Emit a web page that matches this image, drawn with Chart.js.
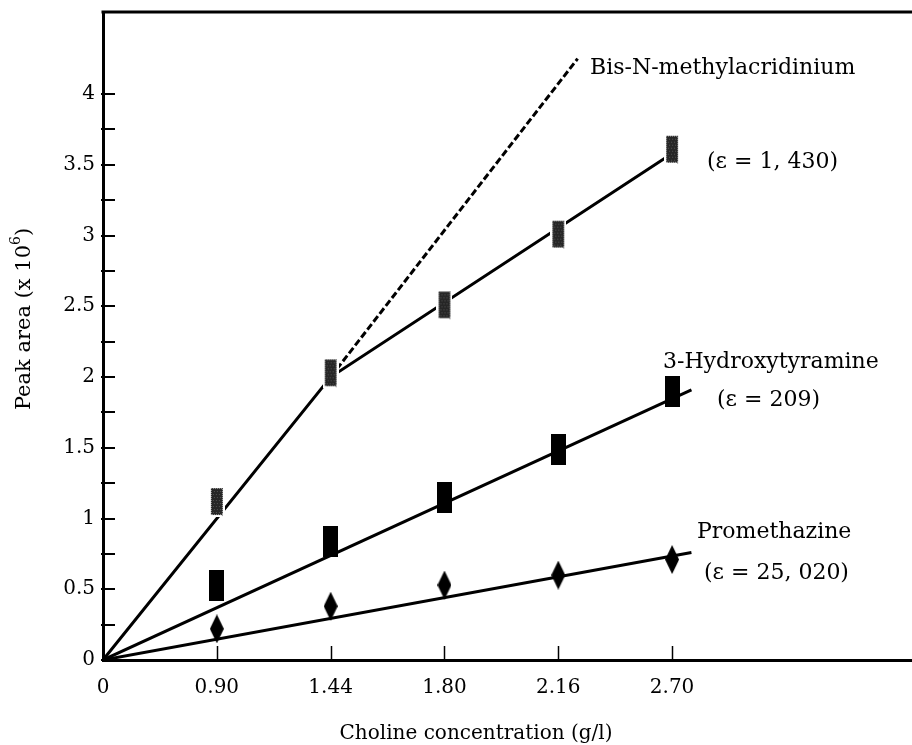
<!DOCTYPE html>
<html>
<head>
<meta charset="utf-8">
<script src="https://cdn.jsdelivr.net/npm/chart.js@4.4.1/dist/chart.umd.min.js"></script>
<style>
  html, body { margin: 0; padding: 0; background: #fff; overflow: hidden; }
  #wrap { width: 940px; height: 745px; }
</style>
</head>
<body>
<div id="wrap"><canvas id="peakChart" width="940" height="745"></canvas></div>
<script>
// x axis: concentrations are drawn at evenly spaced positions, as in the original figure
const concLabels = ['0', '0.90', '1.44', '1.80', '2.16', '2.70'];
const concIndex = [1, 2, 3, 4, 5];

// measured peak areas (x 10^6)
const bisPeak = [1.12, 2.03, 2.51, 3.01, 3.61];
const hydroxyPeak = [0.53, 0.84, 1.15, 1.49, 1.90];
const prometPeak = [0.22, 0.38, 0.53, 0.60, 0.71];

// fitted lines
const bisFitX = [0, 2, 5];
const bisFitY = [0, 2.0, 3.58];
const bisDashX = [2, 4.17];
const bisDashY = [2.0, 4.25];
const hydroxyFitX = [0, 5.17];
const hydroxyFitY = [0, 1.91];
const prometFitX = [0, 5.17];
const prometFitY = [0, 0.76];

const yMajorTicks = [0, 0.5, 1, 1.5, 2, 2.5, 3, 3.5, 4];
const yMinorTicks = [0.25, 0.75, 1.25, 1.75, 2.25, 2.75, 3.25, 3.75];

const FONT = '"DejaVu Serif", "Liberation Serif", serif';

function pts(xs, ys) {
  return xs.map((x, i) => ({ x: x, y: ys[i] }));
}

function makeMarker(w, h, draw) {
  const c = document.createElement('canvas');
  c.width = w;
  c.height = h;
  draw(c.getContext('2d'), w, h);
  return c;
}

// grey stippled bar with a thin white halo
const bisMarker = makeMarker(16, 31, (g, w, h) => {
  g.fillStyle = '#fff';
  g.fillRect(0, 0, w, h);
  g.fillStyle = '#262626';
  g.fillRect(2, 2, w - 4, h - 4);
  g.fillStyle = '#9a9a9a';
  for (let y = 2; y < h - 2; y += 2) {
    g.fillRect(2, y, 1, 1);
    g.fillRect(w - 3, y + 1, 1, 1);
  }
  for (let x = 2; x < w - 2; x += 2) {
    g.fillRect(x, 2, 1, 1);
    g.fillRect(x + 1, h - 3, 1, 1);
  }
  g.fillStyle = '#555';
  for (let y = 5; y < h - 4; y += 3) {
    for (let x = 4 + (y % 2); x < w - 4; x += 3) g.fillRect(x, y, 1, 1);
  }
});

const hydroxyMarker = makeMarker(15, 31, (g, w, h) => {
  g.fillStyle = '#000';
  g.fillRect(0, 0, w, h);
});

const prometMarker = makeMarker(14, 29, (g, w, h) => {
  g.fillStyle = '#000';
  g.beginPath();
  g.moveTo(w / 2, 0);
  g.lineTo(w, h / 2);
  g.lineTo(w / 2, h);
  g.lineTo(0, h / 2);
  g.closePath();
  g.fill();
});

function line(ctx, x1, y1, x2, y2) {
  ctx.beginPath();
  ctx.moveTo(x1, y1);
  ctx.lineTo(x2, y2);
  ctx.stroke();
}

// ticks point inwards, plus the top frame line
const frameTicks = {
  id: 'frameTicks',
  afterDraw(chart) {
    const { ctx, chartArea: a, scales: { x, y } } = chart;
    ctx.save();
    ctx.strokeStyle = '#000';
    ctx.lineWidth = 2;
    yMajorTicks.concat(yMinorTicks).forEach((v) => {
      const py = Math.round(y.getPixelForValue(v));
      line(ctx, a.left - 2, py, a.left + 12, py);
    });
    ctx.lineWidth = 1.5;
    concIndex.forEach((i) => {
      const px = Math.round(x.getPixelForValue(i)) + 0.5;
      line(ctx, px, a.bottom, px, a.bottom - 14);
    });
    ctx.lineWidth = 3;
    line(ctx, a.left - 1.5, a.top, a.right, a.top);
    ctx.restore();
  }
};

const annotations = [
  { text: 'Bis-N-methylacridinium', x: 590, y: 68 },
  { text: '(\u03b5 = 1, 430)', x: 707, y: 162 },
  { text: '3-Hydroxytyramine', x: 663, y: 362 },
  { text: '(\u03b5 = 209)', x: 717, y: 400 },
  { text: 'Promethazine', x: 697, y: 532 },
  { text: '(\u03b5 = 25, 020)', x: 704, y: 573 }
];

const textLayer = {
  id: 'textLayer',
  afterDraw(chart) {
    const ctx = chart.ctx;
    ctx.save();
    ctx.fillStyle = '#000';
    ctx.font = '22px ' + FONT;
    ctx.textBaseline = 'middle';
    ctx.textAlign = 'left';
    annotations.forEach((a) => ctx.fillText(a.text, a.x, a.y));

    // x axis title
    ctx.font = '20px ' + FONT;
    ctx.textAlign = 'center';
    ctx.fillText('Choline concentration (g/l)', 476, 734);

    // y axis title with superscript
    ctx.translate(25, 319);
    ctx.rotate(-Math.PI / 2);
    const main = 'Peak area (x 10';
    const sup = '6';
    const tail = ')';
    ctx.font = '21px ' + FONT;
    const wMain = ctx.measureText(main).width;
    const wTail = ctx.measureText(tail).width;
    ctx.font = '14px ' + FONT;
    const wSup = ctx.measureText(sup).width;
    const total = wMain + wSup + wTail;
    let cx = -total / 2;
    ctx.textAlign = 'left';
    ctx.font = '21px ' + FONT;
    ctx.fillText(main, cx, 0);
    cx += wMain;
    ctx.font = '14px ' + FONT;
    ctx.fillText(sup, cx, -9);
    cx += wSup;
    ctx.font = '21px ' + FONT;
    ctx.fillText(tail, cx, 0);
    ctx.restore();
  }
};

const fitStyle = {
  type: 'scatter',
  showLine: true,
  borderColor: '#000',
  borderWidth: 3,
  pointRadius: 0,
  pointHoverRadius: 0,
  order: 2
};

const markStyle = {
  type: 'scatter',
  showLine: false,
  order: 1
};

const ctx = document.getElementById('peakChart').getContext('2d');
const chart = new Chart(ctx, {
  type: 'scatter',
  data: {
    datasets: [
      Object.assign({ label: 'Bis fit', data: pts(bisFitX, bisFitY) }, fitStyle),
      Object.assign({ label: 'Bis dashed', data: pts(bisDashX, bisDashY) }, fitStyle, { borderDash: [7, 3], borderWidth: 3 }),
      Object.assign({ label: '3-Hydroxytyramine fit', data: pts(hydroxyFitX, hydroxyFitY) }, fitStyle),
      Object.assign({ label: 'Promethazine fit', data: pts(prometFitX, prometFitY) }, fitStyle),
      Object.assign({
        label: 'Bis-N-methylacridinium',
        data: pts(concIndex, bisPeak),
        pointStyle: bisMarker
      }, markStyle),
      Object.assign({
        label: '3-Hydroxytyramine',
        data: pts(concIndex, hydroxyPeak),
        pointStyle: hydroxyMarker
      }, markStyle),
      Object.assign({
        label: 'Promethazine',
        data: pts(concIndex, prometPeak),
        pointStyle: prometMarker
      }, markStyle)
    ]
  },
  options: {
    responsive: false,
    animation: false,
    layout: { padding: { top: 12, left: 0, right: 0, bottom: 0 } },
    plugins: {
      legend: { display: false },
      tooltip: { enabled: false }
    },
    scales: {
      x: {
        type: 'linear',
        min: 0,
        max: 7.31,
        afterBuildTicks: (s) => {
          s.ticks = concLabels.map((_, i) => ({ value: i }));
        },
        afterFit: (s) => {
          s.height = 85;
          s.paddingLeft = 0;
          s.paddingRight = 0;
        },
        ticks: {
          callback: (v) => concLabels[v] ?? '',
          color: '#000',
          font: { family: FONT, size: 20 },
          padding: 16,
          maxRotation: 0,
          autoSkip: false
        },
        grid: { drawOnChartArea: false, drawTicks: false },
        border: { display: true, color: '#000', width: 3 }
      },
      y: {
        type: 'linear',
        min: 0,
        max: 4.58,
        afterBuildTicks: (s) => {
          s.ticks = yMajorTicks.map((v) => ({ value: v }));
        },
        afterFit: (s) => {
          s.width = 103;
          s.paddingTop = 0;
          s.paddingBottom = 0;
        },
        ticks: {
          callback: (v) => String(v),
          color: '#000',
          font: { family: FONT, size: 20 },
          padding: 8
        },
        grid: { drawOnChartArea: false, drawTicks: false },
        border: { display: true, color: '#000', width: 3 }
      }
    }
  },
  plugins: [frameTicks, textLayer]
});
</script>
</body>
</html>
